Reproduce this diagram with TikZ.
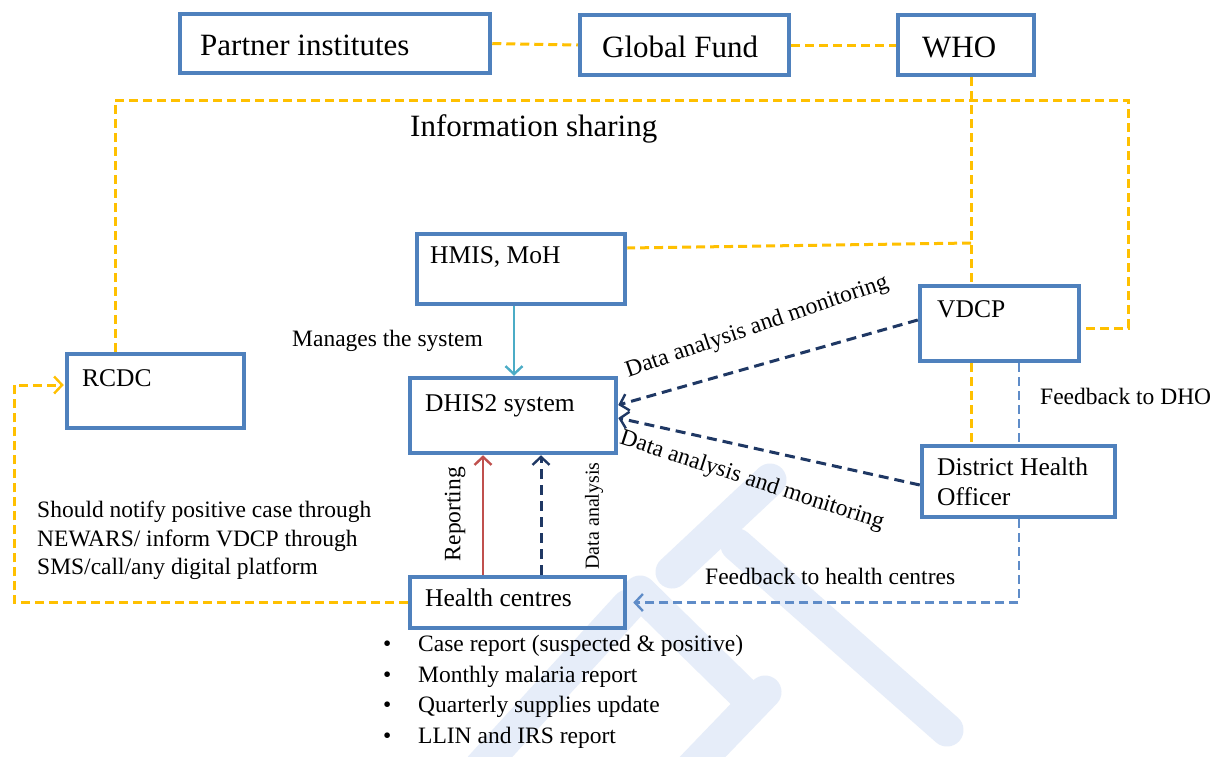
\documentclass[tikz,border=0pt]{standalone}
\usepackage{fontspec}
\setmainfont{Liberation Serif}
\usetikzlibrary{arrows.meta}

\definecolor{boxblue}{RGB}{79,129,189}
\definecolor{gold}{RGB}{255,192,0}
\definecolor{navy}{RGB}{31,56,100}
\definecolor{tealline}{RGB}{75,172,198}
\definecolor{brickred}{RGB}{192,80,77}
\definecolor{softblue}{RGB}{95,140,200}
\definecolor{wmblue}{RGB}{230,237,249}

\tikzset{
  box/.style={draw=boxblue, line width=4.5pt, rectangle, inner sep=0pt},
  share/.style={draw=gold, line width=3pt, dash pattern=on 9pt off 5pt},
  analysis/.style={draw=navy, line width=3pt, dash pattern=on 10pt off 6pt},
  feedback/.style={draw=softblue, line width=2.5pt, dash pattern=on 9pt off 5pt},
  barb/.style={-{Straight Barb[length=8pt,width=17pt,line width=2.4pt]}},
  wmark/.style={draw=wmblue, line width=33pt, line cap=round},
  toptext/.style={inner sep=0pt, anchor=base west, font=\fontsize{31}{36}\selectfont},
  boxtext/.style={inner sep=0pt, anchor=base west, font=\fontsize{25.5}{30}\selectfont},
  labeltext/.style={inner sep=0pt, anchor=base west, font=\fontsize{23.5}{29}\selectfont},
  slanted/.style={inner sep=0pt, anchor=center, font=\fontsize{23.5}{29}\selectfont},
}

\begin{document}
\begin{tikzpicture}[x=1pt, y=-1pt]
\useasboundingbox (0,0) rectangle (1217,756);
\fill[white] (0,0) rectangle (1217,756);

% faint background logo strokes
\begin{scope}
  \clip (0,0) rectangle (1217,756);
  \draw[wmark] (770,480) -- (672,572);
  \draw[wmark] (737,545) -- (947,730);
  \draw[wmark] (640,592) -- (745,695);
  \draw[wmark] (765,692) -- (690,770);
  \draw[wmark] (628,606) -- (478,770);
\end{scope}

% boxes
\node[box, minimum width=310pt, minimum height=59pt] (partner) at (335,43.5) {};
\node[box, minimum width=209pt, minimum height=60pt] (global) at (684.5,45) {};
\node[box, minimum width=136pt, minimum height=60pt] (who) at (966,45) {};
\node[box, minimum width=208pt, minimum height=70pt] (hmis) at (521,269) {};
\node[box, minimum width=159pt, minimum height=75pt] (vdcp) at (999.5,323.5) {};
\node[box, minimum width=177pt, minimum height=74pt] (rcdc) at (155.5,391) {};
\node[box, minimum width=206pt, minimum height=75pt] (dhis) at (513,415.5) {};
\node[box, minimum width=193pt, minimum height=71pt] (dho) at (1018.5,481.5) {};
\node[box, minimum width=215pt, minimum height=51pt] (hc) at (517.5,602.5) {};

% guide coordinates for the routed connectors
\coordinate (loopL) at (115,100);
\coordinate (loopR) at (1128,100);
\coordinate (loopEnd) at (0,328);
\coordinate (whoX) at (971,243);
\coordinate (hmisY) at (0,248);
\coordinate (fbX) at (1019,0);
\coordinate (manX) at (514,0);
\coordinate (repX) at (483,0);
\coordinate (anaX) at (541,0);
\coordinate (notX) at (14,0);
\coordinate (rcdcY) at (0,385);
\coordinate (dhisA) at (0,405);
\coordinate (dhisB) at (0,418);
\coordinate (vdcpY) at (0,320);
\coordinate (dhoY) at (0,485);

% information sharing links
\draw[share] (partner.east) -- (global.west);
\draw[share] (global.east) -- (who.west);
\draw[share] (rcdc.north -| loopL) -- (loopL) -- (loopR) |- (vdcp.east |- loopEnd);
\draw[share] (who.south -| whoX) -- (vdcp.north -| whoX);
\draw[share] (whoX) -- (hmis.east |- hmisY);
\draw[share] (vdcp.south -| whoX) -- (dho.north -| whoX);
\draw[share, barb, shorten >=1pt] (hc.west) -| (notX |- rcdcY) -- (rcdc.west |- rcdcY);

% system management and reporting
\draw[tealline, line width=2.6pt, barb] (hmis.south -| manX) -- (dhis.north -| manX);
\draw[brickred, line width=2.6pt, barb] (hc.north -| repX) -- (dhis.south -| repX);
\draw[analysis, barb] (hc.north -| anaX) -- (dhis.south -| anaX);
\draw[analysis, barb] (vdcp.west |- vdcpY) -- (dhis.east |- dhisA);
\draw[analysis, barb] (dho.west |- dhoY) -- (dhis.east |- dhisB);

% feedback
\draw[feedback] (vdcp.south -| fbX) -- (dho.north -| fbX);
\draw[feedback, barb, shorten >=6pt] (dho.south -| fbX) |- (hc.east);

% box texts
\node[toptext] (tpartner) at (200,55) {Partner institutes};
\node[toptext] (tglobal) at (602,57) {Global Fund};
\node[toptext] (twho) at (922,57) {WHO};
\node[toptext] (tinfo) at (410,136) {Information sharing};
\node[boxtext] (thmis) at (430,263) {HMIS, MoH};
\node[boxtext] (tvdcp) at (937,317) {VDCP};
\node[boxtext] (trcdc) at (82,386) {RCDC};
\node[boxtext] (tdhis) at (425,411) {DHIS2 system};
\node[boxtext] (tdho1) at (937,475) {District Health};
\node[boxtext] (tdho2) at (937,505) {Officer};
\node[boxtext] (thc) at (425,606) {Health centres};

% connector labels
\node[labeltext] (tman) at (292,346) {Manages the system};
\node[labeltext] (tfbd) at (1040,404) {Feedback to DHO};
\node[labeltext] (tfbh) at (705,584) {Feedback to health centres};
\node[slanted, rotate=19] (tda1) at (757,327) {Data analysis and monitoring};
\node[slanted, rotate=-18] (tda2) at (752,481) {Data analysis and monitoring};
\node[slanted, rotate=90] (trep) at (455,514) {Reporting};
\node[inner sep=0pt, rotate=90, font=\fontsize{20}{24}\selectfont] (tana) at (594,516) {Data analysis};

% notification note
\node[labeltext] (tn1) at (37,517) {Should notify positive case through};
\node[labeltext] (tn2) at (37,546) {NEWARS/ inform VDCP through};
\node[labeltext] (tn3) at (37,574) {SMS/call/any digital platform};

% reports sent by health centres
\node[labeltext] (b1) at (383,651) {•};
\node[labeltext] (r1) at (418,651) {Case report (suspected \& positive)};
\node[labeltext] (b2) at (383,682) {•};
\node[labeltext] (r2) at (418,682) {Monthly malaria report};
\node[labeltext] (b3) at (383,712) {•};
\node[labeltext] (r3) at (418,712) {Quarterly supplies update};
\node[labeltext] (b4) at (383,743) {•};
\node[labeltext] (r4) at (418,743) {LLIN and IRS report};
\end{tikzpicture}
\end{document}
